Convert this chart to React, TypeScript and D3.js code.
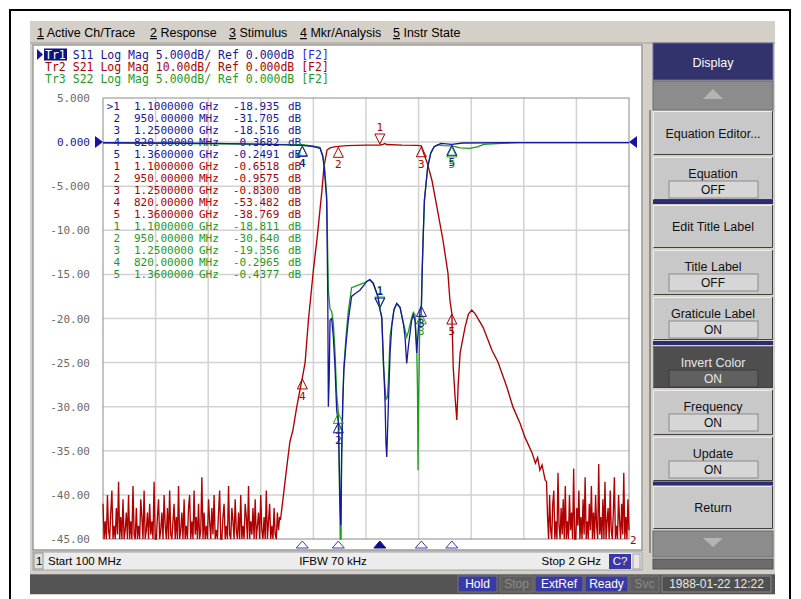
import React from "react";
import * as d3 from "d3";

// ---------- data ----------
const START_MHZ = 100;
const STOP_MHZ = 2000;
const X_DIVS = 10;
const Y_TICKS = [5, 0, -5, -10, -15, -20, -25, -30, -35, -40, -45];
const Y_TICK_LABELS = ["5.000", "0.000", "-5.000", "-10.00", "-15.00", "-20.00", "-25.00", "-30.00", "-35.00", "-40.00", "-45.00"];

const markerFreqs = [1100, 950, 1250, 820, 1360];
const s11MarkerDb = [-18.935, -31.705, -18.516, -0.3682, -0.2491];
const s21MarkerDb = [-0.6518, -0.9575, -0.83, -53.482, -38.769];
const s22MarkerDb = [-18.811, -30.64, -19.356, -0.2965, -0.4377];

const traceNames = ["Tr1", "Tr2", "Tr3"];
const traceTitles = [
  " S11 Log Mag 5.000dB/ Ref 0.000dB ",
  " S21 Log Mag 10.00dB/ Ref 0.000dB ",
  " S22 Log Mag 5.000dB/ Ref 0.000dB ",
];

const s11Points: [number, number][] = [
  [100, -0.05], [300, -0.1], [500, -0.15], [700, -0.25], [820, -0.3682], [860, -0.5], [884, -0.71], [894, -1.67],
  [899, -2.8], [908, -6.6], [912, -17.9], [914, -30.0], [917, -27], [920, -20.2], [926, -20], [932, -22.1],
  [938, -25.5], [944, -30.4], [950, -31.705], [954, -37.2], [956, -40.9], [959, -43.4], [962, -35.3], [966, -29.6],
  [970, -25.9], [978, -22.8], [986, -20.2], [998, -17.5], [1010, -17.2], [1028, -16.8], [1053, -15.8], [1064, -15.6],
  [1076, -16.0], [1093, -17.5], [1100, -18.935], [1107, -19.8], [1112, -23.9], [1119, -29.6], [1122, -34.1],
  [1125, -35.7], [1131, -29.6], [1137, -23.9], [1143, -20.9], [1151, -19.0], [1161, -18.3], [1173, -18.7],
  [1185, -20.6], [1191, -22.1], [1197, -25.1], [1203, -23.2], [1215, -20.2], [1221, -19.6], [1227, -20.2],
  [1233, -23.9], [1240, -20.8], [1246, -19.0], [1250, -18.516], [1253, -14.5], [1257, -10.3], [1261, -6.6],
  [1267, -4.7], [1273, -2.8], [1284, -1.25], [1296, -0.54], [1320, -0.15], [1360, -0.2491], [1400, -0.1],
  [1600, -0.05], [2000, -0.05],
];

const s22Points: [number, number][] = [
  [100, -0.1], [300, -0.15], [500, -0.2], [700, -0.25], [820, -0.2965], [860, -0.45], [884, -0.6], [894, -1.5],
  [900, -2.8], [908, -6.0], [914, -16.8], [920, -18.9], [926, -19.2], [932, -20.5], [938, -23.8], [944, -28.5],
  [950, -30.64], [954, -39.2], [957, -48], [960, -47], [962, -36], [966, -29.6], [970, -25.5], [978, -22],
  [986, -19.2], [998, -16.5], [1015, -16.3], [1040, -16.0], [1064, -15.6], [1076, -16.0], [1093, -17.5],
  [1100, -18.811], [1107, -20], [1113, -25.5], [1122, -29.2], [1127, -29.0], [1131, -27], [1137, -22.0],
  [1151, -19], [1161, -18.3], [1173, -18.8], [1185, -20.5], [1197, -22.1], [1203, -21.5], [1215, -19.9],
  [1221, -19.3], [1227, -19.6], [1233, -23], [1236, -28], [1238, -37.2], [1240, -30], [1244, -21],
  [1250, -19.356], [1253, -14.5], [1257, -10.3], [1261, -6.6], [1267, -4.7], [1273, -2.8], [1284, -1.2],
  [1296, -0.5], [1310, -0.3], [1330, -0.4], [1360, -0.4377], [1390, -0.65], [1426, -0.72], [1455, -0.5],
  [1475, -0.25], [1540, -0.15], [1600, -0.05], [2000, -0.05],
];

const s21Points: [number, number][] = [
  [741, -85.7], [750, -81], [763, -74.1], [775, -68], [786, -65.3], [800, -60], [812, -56], [820, -53.482],
  [830, -50], [842, -40.4], [854, -32.8], [860, -29], [873, -22], [891, -10.9], [898, -5.7], [909, -1.8],
  [920, -1.3], [935, -1.1], [950, -0.9575], [980, -0.8], [1050, -0.7], [1100, -0.6518], [1112, -0.5],
  [1118, -0.3], [1124, -0.55], [1180, -0.7], [1235, -0.75], [1250, -0.83], [1258, -2.5], [1270, -4.5],
  [1288, -8.6], [1306, -14.7], [1328, -22.2], [1346, -29.7], [1353, -35.8], [1360, -38.769], [1365, -51],
  [1372, -58], [1378, -63], [1383, -55], [1390, -47.8], [1408, -41.9], [1420, -39], [1432, -38.1], [1445, -39],
  [1473, -42], [1505, -47.2], [1527, -49.9], [1559, -55.6], [1581, -60.1], [1606, -63.7], [1624, -66.9],
  [1650, -70.5], [1662, -72.8], [1670, -71.5], [1678, -74.4], [1686, -73.2], [1697, -76.6],
];

// noise floor of S21, 100 MHz .. 738 MHz
const s21NoiseLeft = [
  -82, -90, -86, -95, -80, -88, -93, -84, -79, -91,
  -87, -98, -83, -89, -77, -94, -85, -92, -81, -96,
  -88, -84, -99, -80, -90, -86, -93, -78, -89, -95,
  -83, -91, -87, -97, -81, -85, -92, -79, -94, -88,
  -84, -100, -82, -89, -86, -93, -77, -90, -96, -85,
  -81, -92, -88, -84, -98, -80, -87, -91, -83, -95,
  -79, -89, -94, -86, -82, -97, -85, -90, -78, -93,
  -88, -84, -96, -81, -91, -87, -99, -83, -80, -92,
  -86, -94, -79, -89, -85, -97, -82, -90, -88, -76,
  -93, -84, -91, -87, -98, -81, -86, -95, -83, -89,
  -80, -92, -88, -96, -84, -79, -90, -94, -85, -82,
  -97, -87, -91, -78, -89, -93, -83, -86, -99, -81,
  -88, -95, -84, -90, -80, -92, -87, -96, -82, -85,
  -91, -78, -94, -86, -89, -83, -98, -81, -90, -87,
  -84, -93, -80, -88, -95, -85, -91, -79, -97, -86,
  -82, -90, -87, -94, -83, -89, -96, -84, -88, -85,
];
// noise floor of S21, 1702 MHz .. 2000 MHz
const s21NoiseRight = [
  -77, -85, -91, -80, -88, -95, -82, -79, -93, -86,
  -90, -75, -87, -98, -83, -89, -81, -94, -78, -92,
  -86, -96, -80, -88, -84, -91, -74, -90, -97, -83,
  -87, -79, -93, -85, -99, -81, -89, -76, -92, -86,
  -95, -82, -88, -78, -91, -84, -97, -80, -87, -93,
  -73, -89, -85, -96, -81, -90, -77, -94, -86, -83,
  -92, -79, -88, -98, -84, -76, -91, -87, -95, -80,
  -86, -93, -82, -89, -75, -90, -85, -97, -81, -88,
];

// ---------- style ----------
const BLUE = "#1616a0";
const RED = "#b00000";
const GREEN = "#1c9c1c";
const MONO = "'DejaVu Sans Mono', 'Liberation Mono', monospace";
const SANS = "'Liberation Sans', Arial, sans-serif";
const PL = 103, PR = 629, PT = 98, PB = 539;

function fmtFreq(f: number) {
  return f >= 1000 ? `${(f / 1000).toFixed(7)} GHz` : `${f.toFixed(5)} MHz`;
}
function fmtDb(v: number) {
  return Math.abs(v) < 1 ? v.toFixed(4) : v.toFixed(3);
}

const keys = [
  { y0: 111, y1: 155, label: "Equation Editor..." },
  { y0: 157, y1: 200, label: "Equation", state: "OFF" },
  { y0: 205, y1: 248, label: "Edit Title Label" },
  { y0: 250, y1: 295, label: "Title Label", state: "OFF" },
  { y0: 297, y1: 340, label: "Graticule Label", state: "ON" },
  { y0: 346, y1: 388, label: "Invert Color", state: "ON", dark: true },
  { y0: 390, y1: 435, label: "Frequency", state: "ON" },
  { y0: 437, y1: 481, label: "Update", state: "ON" },
  { y0: 486, y1: 529, label: "Return" },
];

export default function App() {
  const x = d3.scaleLinear().domain([START_MHZ, STOP_MHZ]).range([PL, PR]);
  const y5 = d3.scaleLinear().domain([5, -45]).range([PT, PB]);
  const y10 = d3.scaleLinear().domain([10, -90]).range([PT, PB]);
  const c5 = (v: number) => y5(Math.max(-45, Math.min(5, v)));
  const c10 = (v: number) => y10(Math.max(-90, Math.min(10, v)));

  const line5 = d3.line<[number, number]>().x((d) => x(d[0])).y((d) => c5(d[1]));
  const line10 = d3.line<[number, number]>().x((d) => x(d[0])).y((d) => c10(d[1]));

  const leftN: [number, number][] = s21NoiseLeft.map((v, i) => [100 + (i * (738 - 100)) / (s21NoiseLeft.length - 1), v]);
  const rightN: [number, number][] = s21NoiseRight.map((v, i) => [1702 + (i * (2000 - 1702)) / (s21NoiseRight.length - 1), v]);
  const s21All = [...leftN, ...s21Points, ...rightN];

  const vTicks = d3.range(1, X_DIVS).map((i) => START_MHZ + (i * (STOP_MHZ - START_MHZ)) / X_DIVS);
  const titleColors = [BLUE, RED, GREEN];

  const markerGlyph = (fx: number, py: number, idx: number, color: string, key: string) => {
    const mx = x(fx);
    if (idx === 0) {
      return (
        <g key={key}>
          <path d={`M${mx - 5},${py - 11} L${mx + 5},${py - 11} L${mx},${py - 1} Z`} fill="none" stroke={color} strokeWidth={1} />
          <text x={mx} y={py - 14} fontFamily={MONO} fontSize={11} fill={color} textAnchor="middle">{idx + 1}</text>
        </g>
      );
    }
    return (
      <g key={key}>
        <path d={`M${mx},${py + 1} L${mx + 5},${py + 11} L${mx - 5},${py + 11} Z`} fill="none" stroke={color} strokeWidth={1} />
        <text x={mx} y={py + 22} fontFamily={MONO} fontSize={11} fill={color} textAnchor="middle">{idx + 1}</text>
      </g>
    );
  };

  const tableRows: { n: number; f: number; v: number; color: string }[] = [];
  [s11MarkerDb, s21MarkerDb, s22MarkerDb].forEach((arr, t) =>
    arr.forEach((v, i) => tableRows.push({ n: i + 1, f: markerFreqs[i], v, color: titleColors[t] }))
  );

  const menu = [
    { n: "1", t: " Active Ch/Trace", x: 37 },
    { n: "2", t: " Response", x: 150 },
    { n: "3", t: " Stimulus", x: 229 },
    { n: "4", t: " Mkr/Analysis", x: 300 },
    { n: "5", t: " Instr State", x: 393 },
  ];

  const statusBoxes = [
    { x0: 458, x1: 497, t: "Hold", on: true },
    { x0: 500, x1: 533, t: "Stop", on: false },
    { x0: 535, x1: 583, t: "ExtRef", on: true },
    { x0: 585, x1: 628, t: "Ready", on: true },
    { x0: 630, x1: 659, t: "Svc", on: false },
  ];

  return (
    <svg width={801} height={599} style={{ position: "fixed", left: 0, top: 0 }}>
      <rect x={0} y={0} width={801} height={599} fill="#ffffff" />
      {/* outer frame */}
      <path d="M10,599 L10,10 L790,10 L790,599" fill="none" stroke="#000" strokeWidth={2} />
      {/* instrument window */}
      <rect x={30} y={21} width={745} height={574} fill="#d4d0c8" />
      {/* menu bar */}
      <line x1={30} y1={43} x2={775} y2={43} stroke="#a09c94" />
      {menu.map((m) => (
        <text key={m.n} x={m.x} y={37} fontFamily={SANS} fontSize={12.5} fill="#000" style={{ whiteSpace: "pre" }}>
          <tspan textDecoration="underline">{m.n}</tspan>
          {m.t}
        </text>
      ))}

      {/* chart window */}
      <rect x={33} y={45} width={609} height={505} fill="#ffffff" stroke="#9a9a9a" strokeWidth={1.5} />

      {/* trace titles */}
      <path d="M37,49 L43,54.5 L37,60 Z" fill={BLUE} />
      <rect x={44} y={48.5} width={23} height={12} fill="#101080" />
      {traceTitles.map((t, r) => (
        <text key={`tt${r}`} x={45} y={59 + r * 12} fontFamily={MONO} fontSize={11.5} fill={titleColors[r]} style={{ whiteSpace: "pre" }}>
          <tspan fill={r === 0 ? "#ffffff" : titleColors[r]}>{traceNames[r]}</tspan>
          <tspan>{t}</tspan>
          <tspan fill={r === 0 ? "#2a2ad8" : titleColors[r]}>[F2]</tspan>
        </text>
      ))}

      {/* grid */}
      {vTicks.map((f) => (
        <line key={`v${f}`} x1={x(f)} x2={x(f)} y1={PT} y2={PB} stroke="#d2d2d2" strokeWidth={1.5} />
      ))}
      {Y_TICKS.slice(1, -1).map((v) => (
        <line key={`h${v}`} x1={PL} x2={PR} y1={y5(v)} y2={y5(v)} stroke="#d2d2d2" strokeWidth={1.5} />
      ))}
      <rect x={PL} y={PT} width={PR - PL} height={PB - PT} fill="none" stroke="#8a8a8a" strokeWidth={1} />

      {/* y labels */}
      {Y_TICKS.map((v, i) => (
        <text key={`yl${v}`} x={90} y={y5(v) + 4} fontFamily={MONO} fontSize={11} fill={v === 0 ? BLUE : "#6a6a6a"} textAnchor="end">
          {Y_TICK_LABELS[i]}
        </text>
      ))}

      {/* marker table */}
      {tableRows.map((r, i) => {
        const yy = 110 + i * 12;
        const [num, unit] = fmtFreq(r.f).split(" ");
        return (
          <g key={`tr${i}`} fontFamily={MONO} fontSize={11} fill={r.color}>
            <text x={120} y={yy} textAnchor="end">{i === 0 ? `>${r.n}` : `${r.n}`}</text>
            <text x={134} y={yy}>{num}</text>
            <text x={199} y={yy}>{unit}</text>
            <text x={233} y={yy}>{fmtDb(r.v)}</text>
            <text x={288} y={yy}>dB</text>
          </g>
        );
      })}

      {/* traces */}
      <path d={line10(s21All) || ""} fill="none" stroke={RED} strokeWidth={1.35} />
      <path d={line5(s22Points) || ""} fill="none" stroke={GREEN} strokeWidth={1.3} />
      <path d={line5(s11Points) || ""} fill="none" stroke={BLUE} strokeWidth={1.3} />

      {/* reference arrows */}
      <path d={`M95,${y5(0) - 6} L103,${y5(0)} L95,${y5(0) + 6} Z`} fill={BLUE} />
      <path d={`M637,${y5(0) - 6} L629,${y5(0)} L637,${y5(0) + 6} Z`} fill={BLUE} />
      <text x={630} y={PB + 5} fontFamily={MONO} fontSize={11} fill={RED}>2</text>

      {/* markers */}
      {markerFreqs.map((f, i) => markerGlyph(f, c10(s21MarkerDb[i]), i, RED, `m21-${i}`))}
      {markerFreqs.map((f, i) => markerGlyph(f, c5(s22MarkerDb[i]), i, GREEN, `m22-${i}`))}
      {markerFreqs.map((f, i) => markerGlyph(f, c5(s11MarkerDb[i]), i, BLUE, `m11-${i}`))}

      {/* stimulus marker indicators */}
      {markerFreqs.map((f, i) => (
        <path
          key={`si${i}`}
          d={`M${x(f)},541 L${x(f) + 6},548 L${x(f) - 6},548 Z`}
          fill={i === 0 ? "#101080" : "#ffffff"}
          stroke={i === 0 ? "#101080" : "#3a3ab0"}
          strokeWidth={1}
        />
      ))}

      {/* channel status line */}
      <rect x={33} y={552} width={609} height={18} fill="#ececec" stroke="#a0a0a0" />
      <rect x={34} y={553} width={9} height={16} fill="#e0e0e0" stroke="#909090" />
      <text x={36} y={565} fontFamily={SANS} fontSize={11.5} fill="#000">1</text>
      <text x={48} y={565} fontFamily={SANS} fontSize={11.5} fill="#000">Start 100 MHz</text>
      <text x={333} y={565} fontFamily={SANS} fontSize={11.5} fill="#000" textAnchor="middle">IFBW 70 kHz</text>
      <text x={601} y={565} fontFamily={SANS} fontSize={11.5} fill="#000" textAnchor="end">Stop 2 GHz</text>
      <rect x={609} y={554} width={22} height={15} fill="#3838a8" />
      <text x={620} y={565} fontFamily={SANS} fontSize={11.5} fill="#fff" textAnchor="middle">C?</text>
      <rect x={633} y={554} width={7} height={15} fill="#e8e8e8" stroke="#a0a0a0" />

      {/* bottom status bar */}
      <rect x={30} y={574} width={745} height={20} fill="#545454" />
      <line x1={30} y1={574.5} x2={775} y2={574.5} stroke="#7a7a7a" />
      {statusBoxes.map((b) => (
        <g key={b.t}>
          <rect x={b.x0} y={576} width={b.x1 - b.x0} height={16} fill={b.on ? "#3a3aa6" : "#5e5e5e"} stroke="#777" />
          <text x={(b.x0 + b.x1) / 2} y={588} fontFamily={SANS} fontSize={12} fill={b.on ? "#ffffff" : "#8a8a8a"} textAnchor="middle">
            {b.t}
          </text>
        </g>
      ))}
      <rect x={662} y={576} width={109} height={16} fill="#505050" stroke="#8a8a8a" />
      <text x={716.5} y={588} fontFamily={SANS} fontSize={12} fill="#e8e8e8" textAnchor="middle">1988-01-22 12:22</text>

      {/* softkey panel */}
      <line x1={650} y1={110} x2={650} y2={553} stroke="#7a7a7a" strokeWidth={1.5} />
      <rect x={653} y={43} width={120} height={37} fill="#32326c" stroke="#6a6aa0" />
      <text x={713} y={67} fontFamily={SANS} fontSize={12.5} fill="#ffffff" textAnchor="middle">Display</text>
      <rect x={653} y={81} width={120} height={29} fill="#8c8c8c" stroke="#6a6a6a" />
      <path d="M713,89 L703,99 L723,99 Z" fill="#b4b4b4" />
      {keys.map((k) => {
        const fill = k.dark ? "#4e4e4e" : "#c8c8c8";
        const tc = k.dark ? "#e6e6e6" : "#101010";
        const cy = k.state ? k.y0 + 16 : (k.y0 + k.y1) / 2;
        return (
          <g key={k.label}>
            <rect x={653} y={k.y0} width={120} height={k.y1 - k.y0} fill={fill} />
            <path d={`M653.5,${k.y1} L653.5,${k.y0 + 0.5} L772.5,${k.y0 + 0.5}`} fill="none" stroke={k.dark ? "#707070" : "#eeeeee"} />
            <path d={`M653.5,${k.y1 - 0.5} L772.5,${k.y1 - 0.5} L772.5,${k.y0}`} fill="none" stroke="#404040" />
            <text x={713} y={cy + 4.5} fontFamily={SANS} fontSize={12.5} fill={tc} textAnchor="middle">{k.label}</text>
            {k.state && (
              <g>
                <rect x={669} y={k.y0 + 24} width={89} height={17} fill={k.dark ? "#606060" : "#d6d6d6"} stroke={k.dark ? "#3a3a3a" : "#8a8a8a"} />
                <text x={713} y={k.y0 + 37} fontFamily={SANS} fontSize={12} fill={tc} textAnchor="middle">{k.state}</text>
              </g>
            )}
          </g>
        );
      })}
      {[200, 341, 481.5].map((yy) => (
        <rect key={`sep${yy}`} x={653} y={yy} width={120} height={4} fill="#2c2c70" />
      ))}
      <rect x={653} y={531} width={120} height={26} fill="#8c8c8c" stroke="#6a6a6a" />
      <path d="M703,538 L723,538 L713,547 Z" fill="#b4b4b4" />
      <rect x={653} y={559} width={120} height={10} fill="#6c6c6c" stroke="#505050" />
    </svg>
  );
}
